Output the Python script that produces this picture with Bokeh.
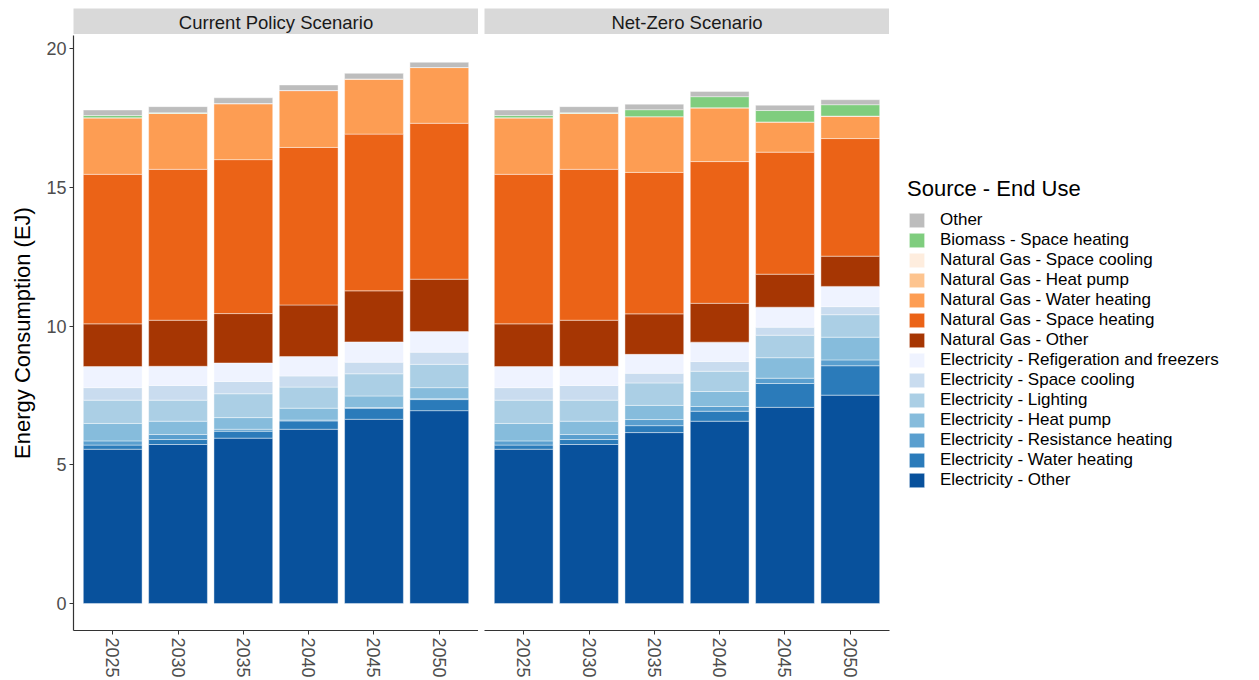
from bokeh.plotting import figure
from bokeh.models import ColumnDataSource, Range1d, FixedTicker, Legend, LegendItem, Spacer
from bokeh.layouts import row, column
from bokeh.embed import file_html
from bokeh.resources import INLINE
from bokeh.core.properties import value

FONT = "Liberation Sans"

years = ["2025", "2030", "2035", "2040", "2045", "2050"]
panels = ["Current Policy Scenario", "Net-Zero Scenario"]

# stacking order: bottom -> top
series = [
    "Electricity - Other",
    "Electricity - Water heating",
    "Electricity - Resistance heating",
    "Electricity - Heat pump",
    "Electricity - Lighting",
    "Electricity - Space cooling",
    "Electricity - Refigeration and freezers",
    "Natural Gas - Other",
    "Natural Gas - Space heating",
    "Natural Gas - Water heating",
    "Natural Gas - Heat pump",
    "Natural Gas - Space cooling",
    "Biomass - Space heating",
    "Other",
]
colors = [
    "#08519C", "#2B7BBA", "#5A9FCF", "#86BCDC", "#ABCFE5", "#C9DCEF", "#EFF3FF",
    "#A63603", "#EB6317", "#FD9D53", "#FDC48F", "#FEEDDE",
    "#7FCD7E", "#BDBDBD",
]

# Current Policy Scenario (EJ)
cps_elec_other = [5.56, 5.73, 5.96, 6.28, 6.64, 6.95]
cps_elec_water = [0.15, 0.18, 0.25, 0.30, 0.40, 0.40]
cps_elec_resist = [0.15, 0.18, 0.07, 0.03, 0.02, 0.03]
cps_elec_hp = [0.63, 0.48, 0.42, 0.43, 0.42, 0.40]
cps_elec_light = [0.84, 0.76, 0.86, 0.76, 0.80, 0.84]
cps_elec_cool = [0.45, 0.53, 0.44, 0.40, 0.42, 0.44]
cps_elec_refrig = [0.76, 0.69, 0.67, 0.70, 0.73, 0.74]
cps_ng_other = [1.54, 1.66, 1.78, 1.86, 1.84, 1.89]
cps_ng_space = [5.39, 5.44, 5.55, 5.68, 5.65, 5.62]
cps_ng_water = [2.04, 2.02, 2.02, 2.05, 1.99, 2.01]
cps_ng_hp = [0.0, 0.0, 0.0, 0.0, 0.0, 0.0]
cps_ng_cool = [0.0, 0.0, 0.0, 0.0, 0.0, 0.0]
cps_biomass = [0.08, 0.02, 0.0, 0.0, 0.0, 0.0]
cps_other = [0.20, 0.22, 0.21, 0.20, 0.20, 0.19]

# Net-Zero Scenario (EJ)
nz_elec_other = [5.56, 5.73, 6.16, 6.57, 7.07, 7.51]
nz_elec_water = [0.15, 0.18, 0.25, 0.36, 0.86, 1.06]
nz_elec_resist = [0.15, 0.18, 0.22, 0.17, 0.19, 0.21]
nz_elec_hp = [0.63, 0.48, 0.51, 0.54, 0.74, 0.82]
nz_elec_light = [0.84, 0.76, 0.81, 0.73, 0.81, 0.81]
nz_elec_cool = [0.45, 0.53, 0.35, 0.35, 0.29, 0.29]
nz_elec_refrig = [0.76, 0.69, 0.68, 0.70, 0.72, 0.73]
nz_ng_other = [1.54, 1.66, 1.46, 1.40, 1.19, 1.09]
nz_ng_space = [5.39, 5.44, 5.10, 5.11, 4.40, 4.24]
nz_ng_water = [2.04, 2.02, 2.01, 1.94, 1.09, 0.81]
nz_ng_hp = [0.0, 0.0, 0.0, 0.0, 0.0, 0.0]
nz_ng_cool = [0.0, 0.0, 0.0, 0.0, 0.0, 0.0]
nz_biomass = [0.08, 0.02, 0.25, 0.40, 0.41, 0.41]
nz_other = [0.20, 0.22, 0.20, 0.19, 0.19, 0.18]

cps_cols = [cps_elec_other, cps_elec_water, cps_elec_resist, cps_elec_hp, cps_elec_light,
            cps_elec_cool, cps_elec_refrig, cps_ng_other, cps_ng_space, cps_ng_water,
            cps_ng_hp, cps_ng_cool, cps_biomass, cps_other]
nz_cols = [nz_elec_other, nz_elec_water, nz_elec_resist, nz_elec_hp, nz_elec_light,
           nz_elec_cool, nz_elec_refrig, nz_ng_other, nz_ng_space, nz_ng_water,
           nz_ng_hp, nz_ng_cool, nz_biomass, nz_other]

y_ticks = [0, 5, 10, 15, 20]
y_range = Range1d(-0.975, 20.475)


def make_source(cols):
    d = {"x": list(range(len(years)))}
    for name, vals in zip(series, cols):
        d[name] = vals
    return ColumnDataSource(d)


def make_panel(cols, first):
    p = figure(frame_width=405, frame_height=595,
               x_range=Range1d(-0.6, len(years) - 0.4), y_range=y_range,
               toolbar_location=None, output_backend="svg",
               min_border_left=73 if first else 6, min_border_right=0,
               min_border_top=0, min_border_bottom=48,
               y_axis_location="left" if first else None)
    p.outline_line_color = None
    p.xgrid.visible = False
    p.ygrid.visible = False
    src = make_source(cols)
    rs = p.vbar_stack(series, x="x", width=0.9, color=colors, source=src,
                      line_color="white", line_width=0.6, line_alpha=0.7)
    xa = p.xaxis[0]
    xa.ticker = FixedTicker(ticks=list(range(len(years))))
    xa.major_label_overrides = {i: y for i, y in enumerate(years)}
    xa.major_label_orientation = "vertical"
    xa.minor_tick_line_color = None
    xa.major_tick_in = 0
    xa.major_tick_out = 4
    xa.major_label_standoff = 3
    xa.major_label_text_font = FONT
    xa.major_label_text_font_size = "18px"
    xa.major_label_text_color = "#4D4D4D"
    xa.axis_line_color = "#333333"
    xa.major_tick_line_color = "#333333"
    xa.axis_line_width = 1.2
    if first:
        ya = p.yaxis[0]
        ya.ticker = FixedTicker(ticks=y_ticks)
        ya.minor_tick_line_color = None
        ya.major_tick_in = 0
        ya.major_tick_out = 4
        ya.major_label_standoff = 3
        ya.major_label_text_font = FONT
        ya.major_label_text_font_size = "18px"
        ya.major_label_text_color = "#4D4D4D"
        ya.axis_line_color = "#333333"
        ya.major_tick_line_color = "#333333"
        ya.axis_line_width = 1.2
        ya.axis_label = "Energy Consumption (EJ)"
        ya.axis_label_text_font = FONT
        ya.axis_label_text_font_size = "22px"
        ya.axis_label_text_font_style = "normal"
        ya.axis_label_text_color = "#000000"
        ya.axis_label_standoff = 8
    return p, rs


def make_strip(label):
    s = figure(width=405, height=26, x_range=Range1d(0, 1), y_range=Range1d(0, 1),
               toolbar_location=None, output_backend="svg", min_border=0,
               x_axis_location=None, y_axis_location=None,
               background_fill_color="#D9D9D9", border_fill_color="#D9D9D9")
    s.outline_line_color = None
    s.xgrid.visible = False
    s.ygrid.visible = False
    s.text(x=[0.5], y=[0.48], text=[label], text_align="center", text_baseline="middle",
           text_font=value(FONT), text_font_size="18.5px", text_color="#1A1A1A")
    return s


p1, _ = make_panel(cps_cols, True)
p2, rs2 = make_panel(nz_cols, False)

items = [LegendItem(label=name, renderers=[r]) for name, r in zip(series, rs2)]
items = items[::-1]
legend = Legend(items=items, location="center_left", title="Source - End Use",
                title_text_font=FONT, title_text_font_size="22px", title_text_font_style="normal",
                title_text_color="#000000", title_standoff=8,
                label_text_font=FONT, label_text_font_size="17px", label_text_color="#000000",
                glyph_width=19, glyph_height=18, label_height=18, label_standoff=14,
                spacing=0, padding=10, margin=18, border_line_color=None,
                background_fill_color=None)
p2.add_layout(legend, "right")
p2.min_border_right = 10

s1 = make_strip(panels[0])
s2 = make_strip(panels[1])

layout = column(
    Spacer(width=10, height=8),
    row(Spacer(width=73, height=26), s1, Spacer(width=6, height=26), s2),
    Spacer(width=10, height=1),
    row(p1, p2),
)

open("out.html", "w").write(file_html(layout, INLINE))
